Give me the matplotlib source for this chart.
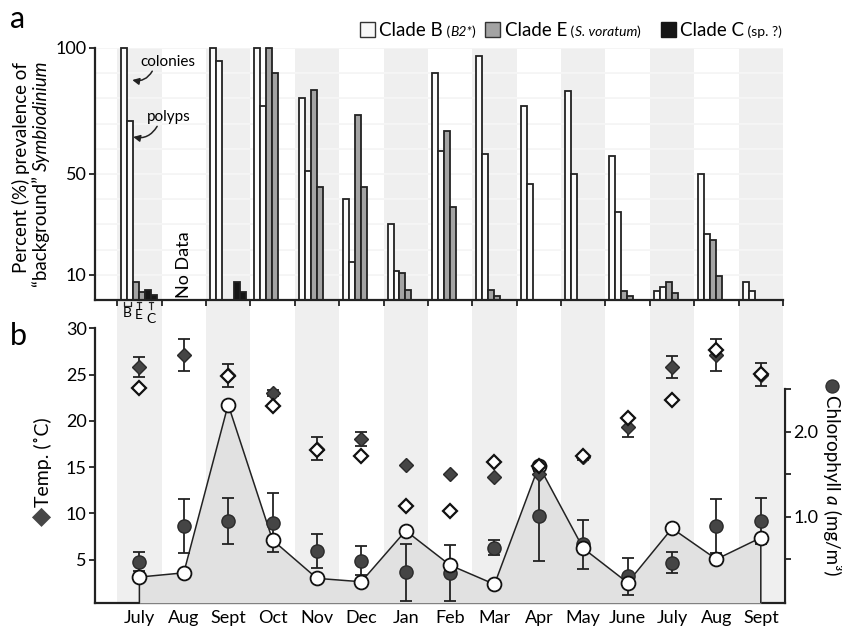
import numpy as np
import matplotlib
matplotlib.use("Agg")
import matplotlib.pyplot as plt
from matplotlib.patches import Rectangle
from matplotlib.lines import Line2D

plt.rcParams['font.family'] = ['Lato', 'DejaVu Sans']

# ---------------- data ----------------
months = ["July", "Aug", "Sept", "Oct", "Nov", "Dec", "Jan", "Feb", "Mar",
          "Apr", "May", "June", "July", "Aug", "Sept"]
nan = np.nan
# panel a: percent prevalence (colonies, polyps) for each clade
B_col = [100, nan, 100, 100, 80, 40, 30, 90, 97, 77, 83, 57, 3.7, 50, 7]
B_pol = [71, nan, 95, 77, 51, 15, 11.5, 59, 58, 46, 50, 35, 5, 26, 3.7]
E_col = [7, nan, nan, 100, 83.5, 73.5, 10.6, 67, 4, nan, nan, 3.7, 7, 24, nan]
E_pol = [3, nan, nan, 90, 45, 45, 4, 37, 1.6, nan, nan, 1.6, 2.6, 9.5, nan]
C_col = [4, nan, 7, nan, nan, nan, nan, nan, nan, nan, nan, nan, nan, nan, nan]
C_pol = [2, nan, 3, nan, nan, nan, nan, nan, nan, nan, nan, nan, nan, nan, nan]

# panel b: temperature (diamonds) and chlorophyll a (circles)
temp_filled = [25.8, 27.1, 24.9, 23.0, 17.0, 18.0, 15.2, 14.3, 13.9, 14.3, 16.05, 19.3, 25.8, 27.1, 25.0]
temp_filled_err = [1.1, 1.7, 1.25, 0.35, 1.2, 0.75, 0, 0, 0, 0, 0.3, 1.0, 1.15, 1.7, 1.27]
temp_open = [23.5, nan, 24.8, 21.6, 16.8, 16.2, 10.8, 10.3, 15.5, 15.1, 16.2, 20.3, 22.25, 27.65, 25.05]
chl_dark = [0.47, 0.89, 0.95, 0.93, 0.60, 0.48, 0.345, 0.34, 0.635, 1.01, 0.675, 0.30, 0.46, 0.89, 0.95]
chl_dark_err = [0.11, 0.32, 0.27, 0.35, 0.2, 0.17, 0.34, 0.33, 0.09, 0.53, 0.29, 0.22, 0.12, 0.32, 0.27]
chl_open = [0.29, 0.34, 2.32, 0.726, 0.275, 0.235, 0.835, 0.43, 0.205, 1.6, 0.628, 0.224, 0.863, 0.50, 0.753]

W, H = 842, 628
fig = plt.figure(figsize=(W / 100, H / 100), dpi=100)

def fpos(l, t, r, b):
    return [l / W, 1 - b / H, (r - l) / W, (b - t) / H]

SP = '#222222'
BAND = '#efefef'
x = np.arange(len(months))

# ---------------- panel a ----------------
axa = fig.add_axes(fpos(95, 48, 783, 300))
axa.set_zorder(10)
axa.set_xlim(-1, len(months) - 0.5)
axa.set_ylim(0, 100)
for i in range(0, len(months), 2):
    axa.axvspan(i - 0.5, i + 0.5, color=BAND, lw=0, zorder=0)
for g in range(10, 101, 10):
    axa.axhline(g, color='#f6f6f6', lw=1.3, zorder=0.5)
    axa.axhline(g, color='#e9e9e9', lw=0.6, zorder=0.4)

bw = 0.135
off0 = -0.5 + 0.09
series = [(B_col, '#fbfbfb'), (B_pol, '#fbfbfb'), (E_col, '#a3a3a3'), (E_pol, '#a3a3a3'),
          (C_col, '#161616'), (C_pol, '#161616')]
for k, (vals, col) in enumerate(series):
    v = np.array(vals, dtype=float)
    bars = axa.bar(x + off0 + k * bw, v, width=bw, align='edge', color=col,
                   edgecolor=SP, lw=1.3, zorder=2)
    for b in bars:
        b.set_clip_on(False)

for s in ['top', 'right']:
    axa.spines[s].set_visible(False)
for s in ['left', 'bottom']:
    axa.spines[s].set_linewidth(1.6)
    axa.spines[s].set_color(SP)
    axa.spines[s].set_zorder(3)
axa.set_yticks([10, 50, 100])
axa.set_yticklabels(['10', '50', '100'], fontsize=13)
axa.set_xticks(np.arange(-0.5, len(months), 1.0))
axa.set_xticklabels([])
axa.tick_params(axis='both', direction='out', length=4, width=1.3, color=SP, pad=2)

axa.text(1.0, 14, 'No Data', rotation=90, ha='center', va='center', fontsize=13, zorder=3)

# annotations "colonies" / "polyps"
axa.text(0.64, 94.4, 'colonies', fontsize=11, ha='center', va='center', zorder=3)
axa.annotate('', xy=(-0.16, 87.3), xytext=(0.29, 90.8),
             arrowprops=dict(arrowstyle='-|>', color=SP, lw=1.1, mutation_scale=10,
                             connectionstyle='arc3,rad=-0.35', shrinkA=0, shrinkB=0))
axa.text(0.66, 72.6, 'polyps', fontsize=11, ha='center', va='center', zorder=3)
axa.annotate('', xy=(-0.14, 64.7), xytext=(0.40, 68.9),
             arrowprops=dict(arrowstyle='-|>', color=SP, lw=1.1, mutation_scale=10,
                             connectionstyle='arc3,rad=-0.35', shrinkA=0, shrinkB=0))

# B / E / C key under the first month
cB = off0 + bw
cE = off0 + 3 * bw
cC = off0 + 5 * bw
tr = axa.get_xaxis_transform()
axa.add_line(Line2D([cB - 0.08, cB - 0.08, cB + 0.08, cB + 0.08], [-0.008, -0.025, -0.025, -0.008],
                    transform=tr, color=SP, lw=0.9, clip_on=False))
for cc in (cE, cC):
    axa.add_line(Line2D([cc, cc], [-0.008, -0.035], transform=tr, color=SP, lw=0.9, clip_on=False))
    axa.add_line(Line2D([cc - 0.05, cc + 0.05], [-0.008, -0.008], transform=tr, color=SP, lw=0.9, clip_on=False))
axa.text(cB, -0.028, 'B', transform=tr, ha='center', va='top', fontsize=10)
axa.text(cE, -0.036, 'E', transform=tr, ha='center', va='top', fontsize=10)
axa.text(cC, -0.05, 'C', transform=tr, ha='center', va='top', fontsize=10)

# ---------------- panel b ----------------
axb = fig.add_axes(fpos(95, 300, 785, 603))
axb.set_xlim(-1, len(months) - 0.5 + 0.045)
ylo, yhi = 0.32, 33.05
axb.set_ylim(ylo, yhi)
for i in range(0, len(months), 2):
    axb.axvspan(i - 0.5, i + 0.5, color=BAND, lw=0, zorder=0)

axc = axb.twinx()
clo, chi = -0.015, 3.55
axc.set_ylim(clo, chi)
axc.set_zorder(axb.get_zorder() + 1)
axc.patch.set_visible(False)

# fill + line for open circles (chlorophyll axis)
xo = np.concatenate([[x[0]], x, [x[-1]]])
yo = np.concatenate([[clo], np.array(chl_open), [clo]])
axc.fill_between(x, chl_open, clo, color='#e1e1e1', lw=0, zorder=1)
axc.plot(xo, yo, color=SP, lw=1.1, zorder=2)

# chlorophyll circles overlay
axch = fig.add_axes(axb.get_position(), sharex=axb)
axch.set_ylim(clo, chi)
axch.set_zorder(axc.get_zorder() + 1)
axch.patch.set_visible(False)
axch.axis('off')
axch.errorbar(x, chl_dark, yerr=chl_dark_err, fmt='none', ecolor=SP, elinewidth=1.3,
              capsize=4, capthick=1.3, zorder=3)
axch.plot(x, chl_dark, 'o', ms=9.5, mfc='#454545', mec='#2a2a2a', mew=1.0, zorder=4, ls='none')
axch.plot(x, chl_open, 'o', ms=10, mfc='white', mec='#111111', mew=1.3, zorder=5, ls='none')

# temperature diamonds overlay
tf = np.array(temp_filled)
tfe = np.array(temp_filled_err)
mask = tfe > 0
axt = fig.add_axes(axb.get_position(), sharex=axb)
axt.set_ylim(ylo, yhi)
axt.set_zorder(axch.get_zorder() + 1)
axt.patch.set_visible(False)
axt.axis('off')
axt.errorbar(x[mask], tf[mask], yerr=tfe[mask], fmt='none', ecolor=SP, elinewidth=1.3,
             capsize=4, capthick=1.3, zorder=3)
axt.plot(x, tf, 'D', ms=7.5, mfc='#454545', mec='#2a2a2a', mew=1.0, zorder=4, ls='none')
axt.plot(x, temp_open, 'D', ms=7.5, mfc='white', mec='#111111', mew=1.6, zorder=5, ls='none')

# axes styling
for s in ['top', 'right']:
    axb.spines[s].set_visible(False)
for s in ['top', 'left', 'bottom']:
    axc.spines[s].set_visible(False)
axb.spines['left'].set_bounds(ylo, 30)
axc.spines['right'].set_bounds(clo, 2.5)
for sp in (axb.spines['left'], axb.spines['bottom'], axc.spines['right']):
    sp.set_linewidth(1.6)
    sp.set_color(SP)
axb.set_yticks([5, 10, 15, 20, 25, 30])
axb.set_yticklabels(['5', '10', '15', '20', '25', '30'], fontsize=13)
axb.tick_params(axis='y', direction='out', length=4, width=1.3, color=SP, pad=2)
axb.set_xticks(x)
axb.set_xticklabels(months, fontsize=13)
axb.tick_params(axis='x', length=0, pad=5)
axc.set_yticks([0.5, 1.0, 1.5, 2.0, 2.5])
axc.set_yticklabels(['', '1.0', '', '2.0', ''], fontsize=13)
axc.tick_params(axis='y', direction='out', length=4, width=1.3, color=SP, pad=2)

# ---------------- texts ----------------
fig.text(10 / W, 1 - 28 / H, 'a', fontsize=22)
fig.text(10 / W, 1 - 345 / H, 'b', fontsize=22)

renderer = fig.canvas.get_renderer()

def chain(xp, yp, pieces, rotation=0):
    for s, kw in pieces:
        t = fig.text(xp / W, 1 - yp / H, s, rotation=rotation, rotation_mode='anchor',
                     ha='left', va='baseline', **kw)
        bb = t.get_window_extent(renderer)
        if rotation == 0:
            xp += bb.width
        elif rotation == 90:
            yp -= bb.height
        else:
            yp += bb.height
    return xp, yp

# legend
leg_y = 36
fig.patches.append(Rectangle((360 / W, 1 - 37 / H), 15 / W, 15 / H, transform=fig.transFigure,
                             fc='#f8f8f8', ec='#333333', lw=1.0))
chain(379, leg_y, [('Clade B', dict(fontsize=13.5)), (' (', dict(fontsize=10)),
                   ('B2*', dict(fontsize=10, style='italic')), (')', dict(fontsize=10))])
fig.patches.append(Rectangle((485 / W, 1 - 37 / H), 15 / W, 15 / H, transform=fig.transFigure,
                             fc='#a3a3a3', ec='#333333', lw=1.0))
chain(505, leg_y, [('Clade E', dict(fontsize=13.5)), (' (', dict(fontsize=10)),
                   ('S. voratum', dict(fontsize=10, style='italic')), (')', dict(fontsize=10))])
fig.patches.append(Rectangle((661 / W, 1 - 37 / H), 15 / W, 15 / H, transform=fig.transFigure,
                             fc='#161616', ec='#161616', lw=1.0))
chain(680, leg_y, [('Clade C', dict(fontsize=13.5)), (' (sp. ?)', dict(fontsize=10))])

# panel a y label (two lines)
chain(27, 273, [('Percent (%) prevalence of', dict(fontsize=13.5))], rotation=90)
chain(47, 287, [('\u201cbackground\u201d ', dict(fontsize=13.5)),
                ('Symbiodinium', dict(fontsize=13.5, style='italic'))], rotation=90)

# panel b left label
chain(49, 526, [('\u25c6', dict(fontsize=18, color='#454545')),
                ('Temp. (\u02daC)', dict(fontsize=14))], rotation=90)
# panel b right label: circle symbol + text
fig.add_artist(Line2D([832 / W], [1 - 386 / H], marker='o', ms=9.5, mfc='#454545',
                      mec='#2a2a2a', mew=0.8, ls='none', transform=fig.transFigure))
chain(826, 395, [('Chlorophyll ', dict(fontsize=13.5)),
                 ('a', dict(fontsize=13.5, style='italic')),
                 (' (mg/m\u00b3)', dict(fontsize=13.5))], rotation=270)

fig.savefig('out.png', dpi=100)
